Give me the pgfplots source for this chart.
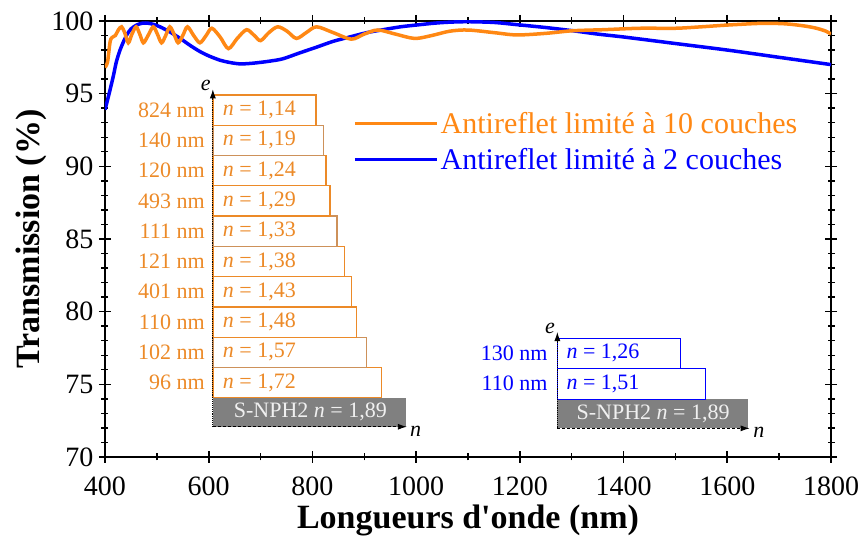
\documentclass[border=0pt]{standalone}
\usepackage{fontspec}
\setmainfont{Liberation Serif}
\usepackage{pgfplots}
\pgfplotsset{compat=1.18}
\usetikzlibrary{arrows.meta}
\definecolor{orangeL}{RGB}{255,136,20}
\definecolor{orangeT}{RGB}{236,138,40}
\definecolor{tanE}{RGB}{205,145,90}
\definecolor{blueL}{RGB}{0,0,255}
\definecolor{greyB}{RGB}{128,128,128}
\definecolor{greyT}{RGB}{240,240,240}
\newcommand\insetfont{\fontsize{22}{22}\selectfont}
\begin{document}
\begin{tikzpicture}
\begin{axis}[name=ax, scale only axis, width=726pt, height=436pt,
  xmin=400, xmax=1800, ymin=70, ymax=100,
  xtick={400,600,...,1800}, ytick={70,75,...,100},
  minor x tick num=1, minor y tick num=4,
  tick align=center, major tick length=12pt, minor tick length=7pt,
  major tick style={line width=1.6pt, black},
  minor tick style={line width=1.4pt, black},
  axis line style={line width=2pt},
  tick label style={font=\fontsize{28}{28}\selectfont},
  xticklabel style={yshift=-10pt},
  yticklabel style={xshift=-2pt},
  /pgf/number format/assume math mode=true,
  /pgf/number format/1000 sep={},
  xlabel={\textbf{Longueurs d\textquotesingle onde (nm)}},
  ylabel={\textbf{Transmission (\%)}},
  xlabel style={yshift=-3pt},
  ylabel style={yshift=-2pt},
  label style={font=\fontsize{34}{34}\selectfont},
  legend style={draw=none, fill=none, at={(0.3375,0.80)}, anchor=north west,
    font=\fontsize{30}{36}\selectfont, row sep=9pt},
  legend cell align=left,
  legend image code/.code={\draw[#1] (0pt,0pt) -- (82pt,0pt);},
  reverse legend,
]
\addplot[blueL, line width=3.5pt, smooth] table {
400 93.9
403 94.3
410 95.3
416 96.2
422 97.2
429 98.0
436 98.6
442 99.04
450 99.45
461 99.72
472 99.85
483 99.85
495 99.75
506 99.6
525 99.25
545 98.8
565 98.3
583 97.9
600 97.6
622 97.3
640 97.15
660 97.05
680 97.08
699 97.15
720 97.25
743 97.4
775 97.8
808 98.2
840 98.6
872 98.9
905 99.2
936 99.4
970 99.6
1000 99.72
1035 99.85
1065 99.92
1100 99.95
1150 99.9
1194 99.75
1250 99.55
1302 99.33
1350 99.1
1400 98.9
1500 98.45
1600 98.0
1700 97.5
1800 97.0
};
\addlegendentry{\textcolor{blueL}{Antireflet limité à 2 couches}}
\addplot[orangeL, line width=3.5pt, smooth] table {
400 96.8
405 97.2
410 98.6
415 98.9
420 99.0
426 99.4
432 99.6
438 99.2
445 98.5
452 99.1
460 99.6
467 99.1
474 98.5
483 99.0
493 99.6
501 99.1
509 98.5
517 99.0
525 99.6
533 99.1
541 98.5
550 99.0
559 99.6
571 99.0
583 98.5
595 99.0
606 99.5
622 98.9
638 98.1
655 98.8
673 99.4
688 99.0
700 98.65
716 99.2
733 99.6
751 99.3
769 98.8
788 99.2
808 99.6
840 99.2
875 98.75
900 99.1
926 99.38
960 99.1
997 98.8
1030 99.0
1065 99.3
1100 99.38
1150 99.2
1194 99.04
1250 99.15
1302 99.33
1360 99.4
1431 99.5
1500 99.5
1550 99.6
1600 99.72
1668 99.84
1714 99.8
1750 99.65
1772 99.5
1790 99.3
1800 99.1
};
\addlegendentry{\textcolor{orangeL}{Antireflet limité à 10 couches}}

% ---- 10-layer stack (orange) ----
\fill[greyB] (axis cs:608,72.08) rectangle (axis cs:980,74.08);
\node[text=greyT, font=\insetfont, inner sep=0pt] at (axis cs:796,73.08) {S-NPH2 \textit{n} = 1,89};
\draw[orangeT, line width=1.3pt, fill=white] (axis cs:608,74.08) rectangle (axis cs:933.2,76.16);
\draw[tanE, line width=1.3pt, fill=white] (axis cs:608,76.16) rectangle (axis cs:904.3,78.24);
\draw[orangeT, line width=1.3pt, fill=white] (axis cs:608,78.24) rectangle (axis cs:885.0,80.33);
\draw[orangeT, line width=1.3pt, fill=white] (axis cs:608,80.33) rectangle (axis cs:875.4,82.41);
\draw[orangeT, line width=1.3pt, fill=white] (axis cs:608,82.41) rectangle (axis cs:862.5,84.49);
\draw[tanE, line width=1.3pt, fill=white] (axis cs:608,84.49) rectangle (axis cs:847.6,86.58);
\draw[orangeT, line width=1.3pt, fill=white] (axis cs:608,86.58) rectangle (axis cs:833.6,88.66);
\draw[orangeT, line width=1.3pt, fill=white] (axis cs:608,88.66) rectangle (axis cs:825.9,90.74);
\draw[tanE, line width=1.3pt, fill=white] (axis cs:608,90.74) rectangle (axis cs:820.7,92.83);
\draw[orangeT, line width=1.3pt, fill=white] (axis cs:608,92.83) rectangle (axis cs:806.6,94.91);
\node[anchor=east, text=orangeT, font=\insetfont, inner sep=0pt] at (axis cs:592.7,93.87) {824 nm};
\node[anchor=east, text=orangeT, font=\insetfont, inner sep=0pt] at (axis cs:592.7,91.79) {140 nm};
\node[anchor=east, text=orangeT, font=\insetfont, inner sep=0pt] at (axis cs:592.7,89.70) {120 nm};
\node[anchor=east, text=orangeT, font=\insetfont, inner sep=0pt] at (axis cs:592.7,87.62) {493 nm};
\node[anchor=east, text=orangeT, font=\insetfont, inner sep=0pt] at (axis cs:592.7,85.54) {111 nm};
\node[anchor=east, text=orangeT, font=\insetfont, inner sep=0pt] at (axis cs:592.7,83.45) {121 nm};
\node[anchor=east, text=orangeT, font=\insetfont, inner sep=0pt] at (axis cs:592.7,81.37) {401 nm};
\node[anchor=east, text=orangeT, font=\insetfont, inner sep=0pt] at (axis cs:592.7,79.29) {110 nm};
\node[anchor=east, text=orangeT, font=\insetfont, inner sep=0pt] at (axis cs:592.7,77.20) {102 nm};
\node[anchor=east, text=orangeT, font=\insetfont, inner sep=0pt] at (axis cs:592.7,75.12) {96 nm};
\node[anchor=west, text=orangeT, font=\insetfont, inner sep=0pt] at (axis cs:627,93.87) {\textit{n} = 1,14};
\node[anchor=west, text=orangeT, font=\insetfont, inner sep=0pt] at (axis cs:627,91.79) {\textit{n} = 1,19};
\node[anchor=west, text=orangeT, font=\insetfont, inner sep=0pt] at (axis cs:627,89.70) {\textit{n} = 1,24};
\node[anchor=west, text=orangeT, font=\insetfont, inner sep=0pt] at (axis cs:627,87.62) {\textit{n} = 1,29};
\node[anchor=west, text=orangeT, font=\insetfont, inner sep=0pt] at (axis cs:627,85.54) {\textit{n} = 1,33};
\node[anchor=west, text=orangeT, font=\insetfont, inner sep=0pt] at (axis cs:627,83.45) {\textit{n} = 1,38};
\node[anchor=west, text=orangeT, font=\insetfont, inner sep=0pt] at (axis cs:627,81.37) {\textit{n} = 1,43};
\node[anchor=west, text=orangeT, font=\insetfont, inner sep=0pt] at (axis cs:627,79.29) {\textit{n} = 1,48};
\node[anchor=west, text=orangeT, font=\insetfont, inner sep=0pt] at (axis cs:627,77.20) {\textit{n} = 1,57};
\node[anchor=west, text=orangeT, font=\insetfont, inner sep=0pt] at (axis cs:627,75.12) {\textit{n} = 1,72};
\draw[black, densely dotted, line width=0.9pt, -{Latex[length=9pt,width=6pt]}] (axis cs:608,72.08) -- (axis cs:608,95.3);
\draw[black, densely dashed, line width=0.9pt, -{Latex[length=9pt,width=6pt]}] (axis cs:608,72.08) -- (axis cs:982,72.08);
\node[anchor=south east, font=\insetfont\itshape, inner sep=1pt] at (axis cs:606,95.1) {e};
\node[anchor=west, font=\insetfont\itshape, inner sep=1pt] at (axis cs:986,71.8) {n};

% ---- 2-layer stack (blue) ----
\fill[greyB] (axis cs:1272.3,71.97) rectangle (axis cs:1640,73.98);
\node[text=greyT, font=\insetfont, inner sep=0pt] at (axis cs:1457,72.98) {S-NPH2 \textit{n} = 1,89};
\draw[blueL, line width=1.3pt, fill=white] (axis cs:1272.3,73.98) rectangle (axis cs:1558,76.10);
\draw[blueL, line width=1.3pt, fill=white] (axis cs:1272.3,76.10) rectangle (axis cs:1510,78.16);
\node[anchor=east, text=blueL, font=\insetfont, inner sep=0pt] at (axis cs:1253.7,77.13) {130 nm};
\node[anchor=east, text=blueL, font=\insetfont, inner sep=0pt] at (axis cs:1253.7,75.04) {110 nm};
\node[anchor=west, text=blueL, font=\insetfont, inner sep=0pt] at (axis cs:1289.6,77.13) {\textit{n} = 1,26};
\node[anchor=west, text=blueL, font=\insetfont, inner sep=0pt] at (axis cs:1289.6,75.04) {\textit{n} = 1,51};
\draw[black, densely dotted, line width=0.9pt, -{Latex[length=9pt,width=6pt]}] (axis cs:1272.3,71.97) -- (axis cs:1272.3,78.6);
\draw[black, densely dashed, line width=0.9pt, -{Latex[length=9pt,width=6pt]}] (axis cs:1272.3,71.97) -- (axis cs:1643,71.97);
\node[anchor=south east, font=\insetfont\itshape, inner sep=1pt] at (axis cs:1270,78.4) {e};
\node[anchor=west, font=\insetfont\itshape, inner sep=1pt] at (axis cs:1648,71.7) {n};
\end{axis}
\pgfresetboundingbox
\path ([shift={(-105pt,-83pt)}]ax.south west) rectangle ([shift={(28pt,21pt)}]ax.north east);
\end{tikzpicture}
\end{document}
